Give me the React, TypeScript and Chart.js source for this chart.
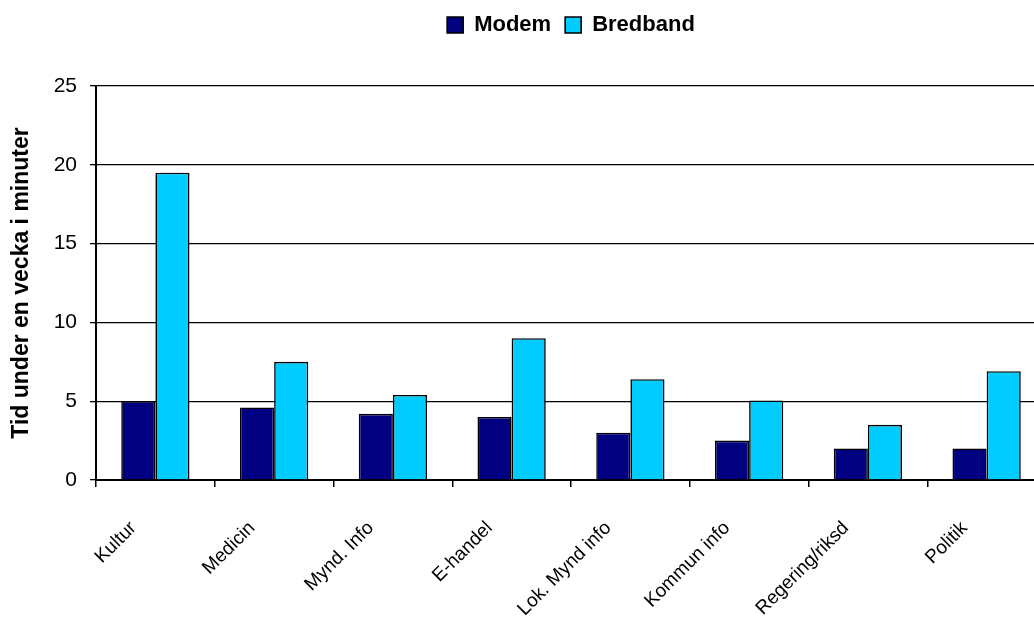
import React, { useEffect, useRef } from "react";
import { Chart, registerables } from "chart.js";

Chart.register(...registerables);

const categories = [
  "Kultur",
  "Medicin",
  "Mynd. Info",
  "E-handel",
  "Lok. Mynd info",
  "Kommun info",
  "Regering/riksd",
  "Politik",
];
const modemValues = [5.0, 4.6, 4.2, 4.0, 3.0, 2.5, 2.0, 2.0];
const bredbandValues = [19.5, 7.5, 5.4, 9.0, 6.4, 5.05, 3.5, 6.9];
const yTickValues = [0, 5, 10, 15, 20, 25];
const yTitle = "Tid under en vecka i minuter";

const FONT = "'Liberation Sans', Arial, Helvetica, sans-serif";

export default function App() {
  const ref = useRef<HTMLCanvasElement | null>(null);

  useEffect(() => {
    if (!ref.current) return;
    const chart = new Chart(ref.current, {
      type: "bar",
      data: {
        labels: categories,
        datasets: [
          {
            label: "Modem",
            data: modemValues,
            backgroundColor: "#000080",
            borderColor: "#000000",
            borderWidth: 1.6,
            categoryPercentage: 0.575,
            barPercentage: 1.0,
          },
          {
            label: "Bredband",
            data: bredbandValues,
            backgroundColor: "#00CCFF",
            borderColor: "#000000",
            borderWidth: 1.6,
            categoryPercentage: 0.575,
            barPercentage: 1.0,
          },
        ],
      },
      options: {
        responsive: false,
        animation: false,
        layout: { padding: 0 },
        plugins: {
          tooltip: { enabled: false },
          legend: {
            position: "top",
            fullSize: false,
            labels: {
              boxWidth: 16,
              boxHeight: 16,
              padding: 14,
              color: "#000",
              font: { family: FONT, size: 22, weight: "bold" },
            },
          },
          title: {
            display: true,
            text: "",
            position: "top",
            weight: 500,
            fullSize: false,
            font: { size: 10, lineHeight: 1 },
            padding: { top: 0, bottom: 30 },
          },
        },
        scales: {
          x: {
            grid: {
              display: true,
              drawOnChartArea: false,
              drawTicks: true,
              tickLength: 7,
              color: "#000",
              lineWidth: 1.5,
              offset: true,
            },
            border: { display: true, color: "#000", width: 2 },
            ticks: {
              autoSkip: false,
              maxRotation: 45,
              minRotation: 45,
              color: "#000",
              padding: 30,
              labelOffset: -22,
              font: { family: FONT, size: 19 },
            },
            afterFit: (scale: any) => {
              scale.height = 150;
            },
          },
          y: {
            min: 0,
            max: 25,
            afterBuildTicks: (scale: any) => {
              scale.ticks = yTickValues.map((v) => ({ value: v }));
            },
            grid: {
              color: "#000",
              lineWidth: 1.3,
              tickLength: 6,
              drawTicks: true,
            },
            border: { display: true, color: "#000", width: 2 },
            ticks: {
              color: "#000",
              padding: 13,
              font: { family: FONT, size: 21 },
            },
            title: {
              display: true,
              text: yTitle,
              color: "#000",
              padding: { top: 8, bottom: 4 },
              font: { family: FONT, size: 23, weight: "bold" },
            },
            afterFit: (scale: any) => {
              scale.width = 96;
            },
          },
        },
      },
    });
    return () => chart.destroy();
  }, []);

  return (
    <div
      style={{
        position: "fixed",
        left: 0,
        top: 0,
        width: 1034,
        height: 630,
        overflow: "hidden",
        background: "#fff",
      }}
    >
      <canvas ref={ref} width={1046} height={630} style={{ display: "block" }} />
    </div>
  );
}
